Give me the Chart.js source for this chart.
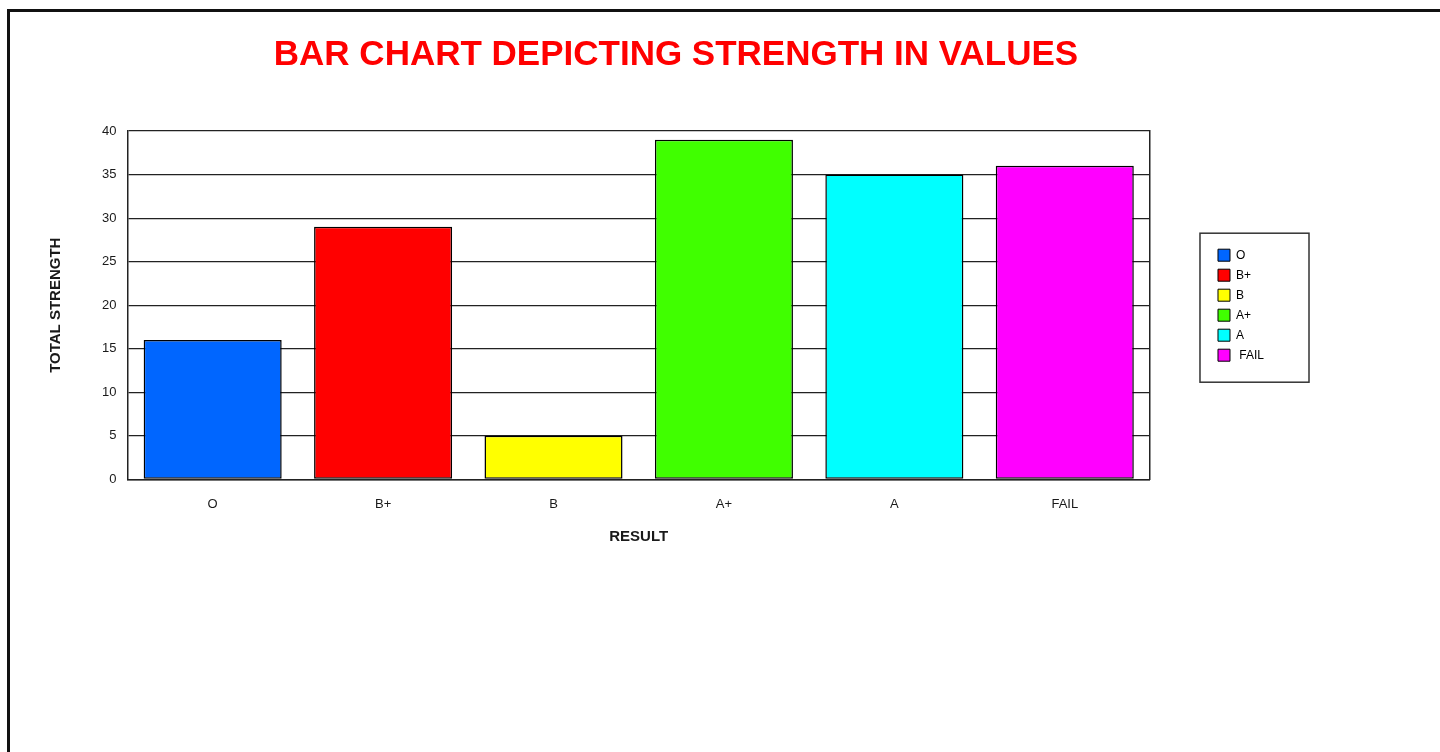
<!DOCTYPE html>
<html>
<head>
<meta charset="utf-8">
<script src="https://cdn.jsdelivr.net/npm/chart.js@4.4.1/dist/chart.umd.min.js"></script>
<style>
  html, body { margin: 0; padding: 0; background: #fff; }
  #wrap { position: relative; width: 1440px; height: 752px; overflow: hidden; }
  #chart-box { position: absolute; left: 0; top: 0; width: 1440px; height: 752px; }
  #frame { position: absolute; left: 7px; top: 9px; right: -10px; bottom: -10px;
           border-left: 3px solid #111; border-top: 3px solid #111; pointer-events: none; }
</style>
</head>
<body>
<div id="wrap">
  <div id="chart-box"><canvas id="strength-chart"></canvas></div>
  <div id="frame"></div>
</div>
<script>
// data
var categories = ['O', 'B+', 'B', 'A+', 'A', 'FAIL'];
var legendLabels = ['O', 'B+', 'B', 'A+', 'A', ' FAIL'];
var strengthValues = [16, 29, 5, 39, 35, 36];
var barColors = ['#0066ff', '#ff0000', '#ffff00', '#40ff00', '#00ffff', '#ff00ff'];

var textColor = '#1a1a1a';
var lineColor = '#222222';
var fontFamily = 'Liberation Sans, Arial, sans-serif';

// draws the thin frame around the legend items
var legendFrame = {
  id: 'legendFrame',
  afterDraw: function (chart) {
    var boxes = chart.legend && chart.legend.legendHitBoxes;
    if (!boxes || !boxes.length) return;
    var minX = Infinity, minY = Infinity, maxX = -Infinity, maxY = -Infinity;
    boxes.forEach(function (b) {
      minX = Math.min(minX, b.left);
      minY = Math.min(minY, b.top);
      maxX = Math.max(maxX, b.left + b.width);
      maxY = Math.max(maxY, b.top + b.height);
    });
    var ctx = chart.ctx;
    ctx.save();
    ctx.strokeStyle = '#333';
    ctx.lineWidth = 1.5;
    ctx.strokeRect(minX - 18, minY - 16, (maxX - minX) + 63, (maxY - minY) + 37);
    ctx.restore();
  }
};

function createStrengthChart() {
  var ctx = document.getElementById('strength-chart').getContext('2d');

  new Chart(ctx, {
    type: 'bar',
    data: {
      labels: categories,
      datasets: [{
        label: 'Strength',
        data: strengthValues,
        backgroundColor: barColors,
        borderColor: '#000',
        borderWidth: 1.5,
        borderSkipped: false,
        barPercentage: 0.81,
        categoryPercentage: 1.0
      }]
    },
    options: {
      responsive: true,
      maintainAspectRatio: false,
      animation: false,
      layout: {
        padding: { left: 40, right: 128, top: 0, bottom: 206 }
      },
      scales: {
        x: {
          grid: { display: false },
          border: { display: true, color: lineColor, width: 1.5 },
          ticks: {
            color: textColor,
            padding: 9,
            font: { family: fontFamily, size: 13 }
          },
          title: {
            display: true,
            text: 'RESULT',
            color: textColor,
            padding: { top: 7, bottom: 0 },
            font: { family: fontFamily, size: 15, weight: 'bold' }
          }
        },
        y: {
          min: 0,
          max: 40,
          ticks: {
            stepSize: 5,
            color: textColor,
            padding: 11,
            font: { family: fontFamily, size: 13 }
          },
          grid: { color: lineColor, lineWidth: 1.2, drawTicks: false },
          border: { display: true, color: lineColor, width: 1.5 },
          title: {
            display: true,
            text: 'TOTAL STRENGTH',
            color: textColor,
            padding: { top: 7, bottom: 26 },
            font: { family: fontFamily, size: 15, weight: 'bold' }
          }
        },
        // empty right axis: closes the plot frame and leaves room before the legend
        y2: {
          position: 'right',
          display: true,
          weight: 0,
          grid: { display: false, drawTicks: false },
          ticks: { display: false },
          border: { display: true, color: lineColor, width: 1.5 },
          afterFit: function (scale) { scale.width = 60; }
        },
        // empty spacer outside the legend so the title sits where it does in the picture
        y3: {
          position: 'right',
          display: true,
          weight: 2000,
          grid: { display: false, drawTicks: false },
          ticks: { display: false },
          border: { display: false },
          afterFit: function (scale) { scale.width = 38; }
        }
      },
      plugins: {
        title: {
          display: true,
          text: 'BAR CHART DEPICTING STRENGTH IN VALUES',
          color: '#ff0000',
          padding: { top: 34, bottom: 55 },
          font: { family: fontFamily, size: 35, weight: 'bold', lineHeight: 1.2 }
        },
        legend: {
          display: true,
          position: 'right',
          fullSize: false,
          labels: {
            boxWidth: 12,
            boxHeight: 12,
            padding: 8,
            color: textColor,
            font: { family: fontFamily, size: 12 },
            generateLabels: function () {
              return legendLabels.map(function (txt, i) {
                return {
                  text: txt,
                  fillStyle: barColors[i],
                  strokeStyle: '#000',
                  lineWidth: 1,
                  hidden: false,
                  index: i,
                  datasetIndex: 0
                };
              });
            }
          },
          onClick: function () {}
        },
        tooltip: { enabled: false }
      }
    },
    plugins: [legendFrame]
  });
}

document.addEventListener('DOMContentLoaded', createStrengthChart);
</script>
</body>
</html>
